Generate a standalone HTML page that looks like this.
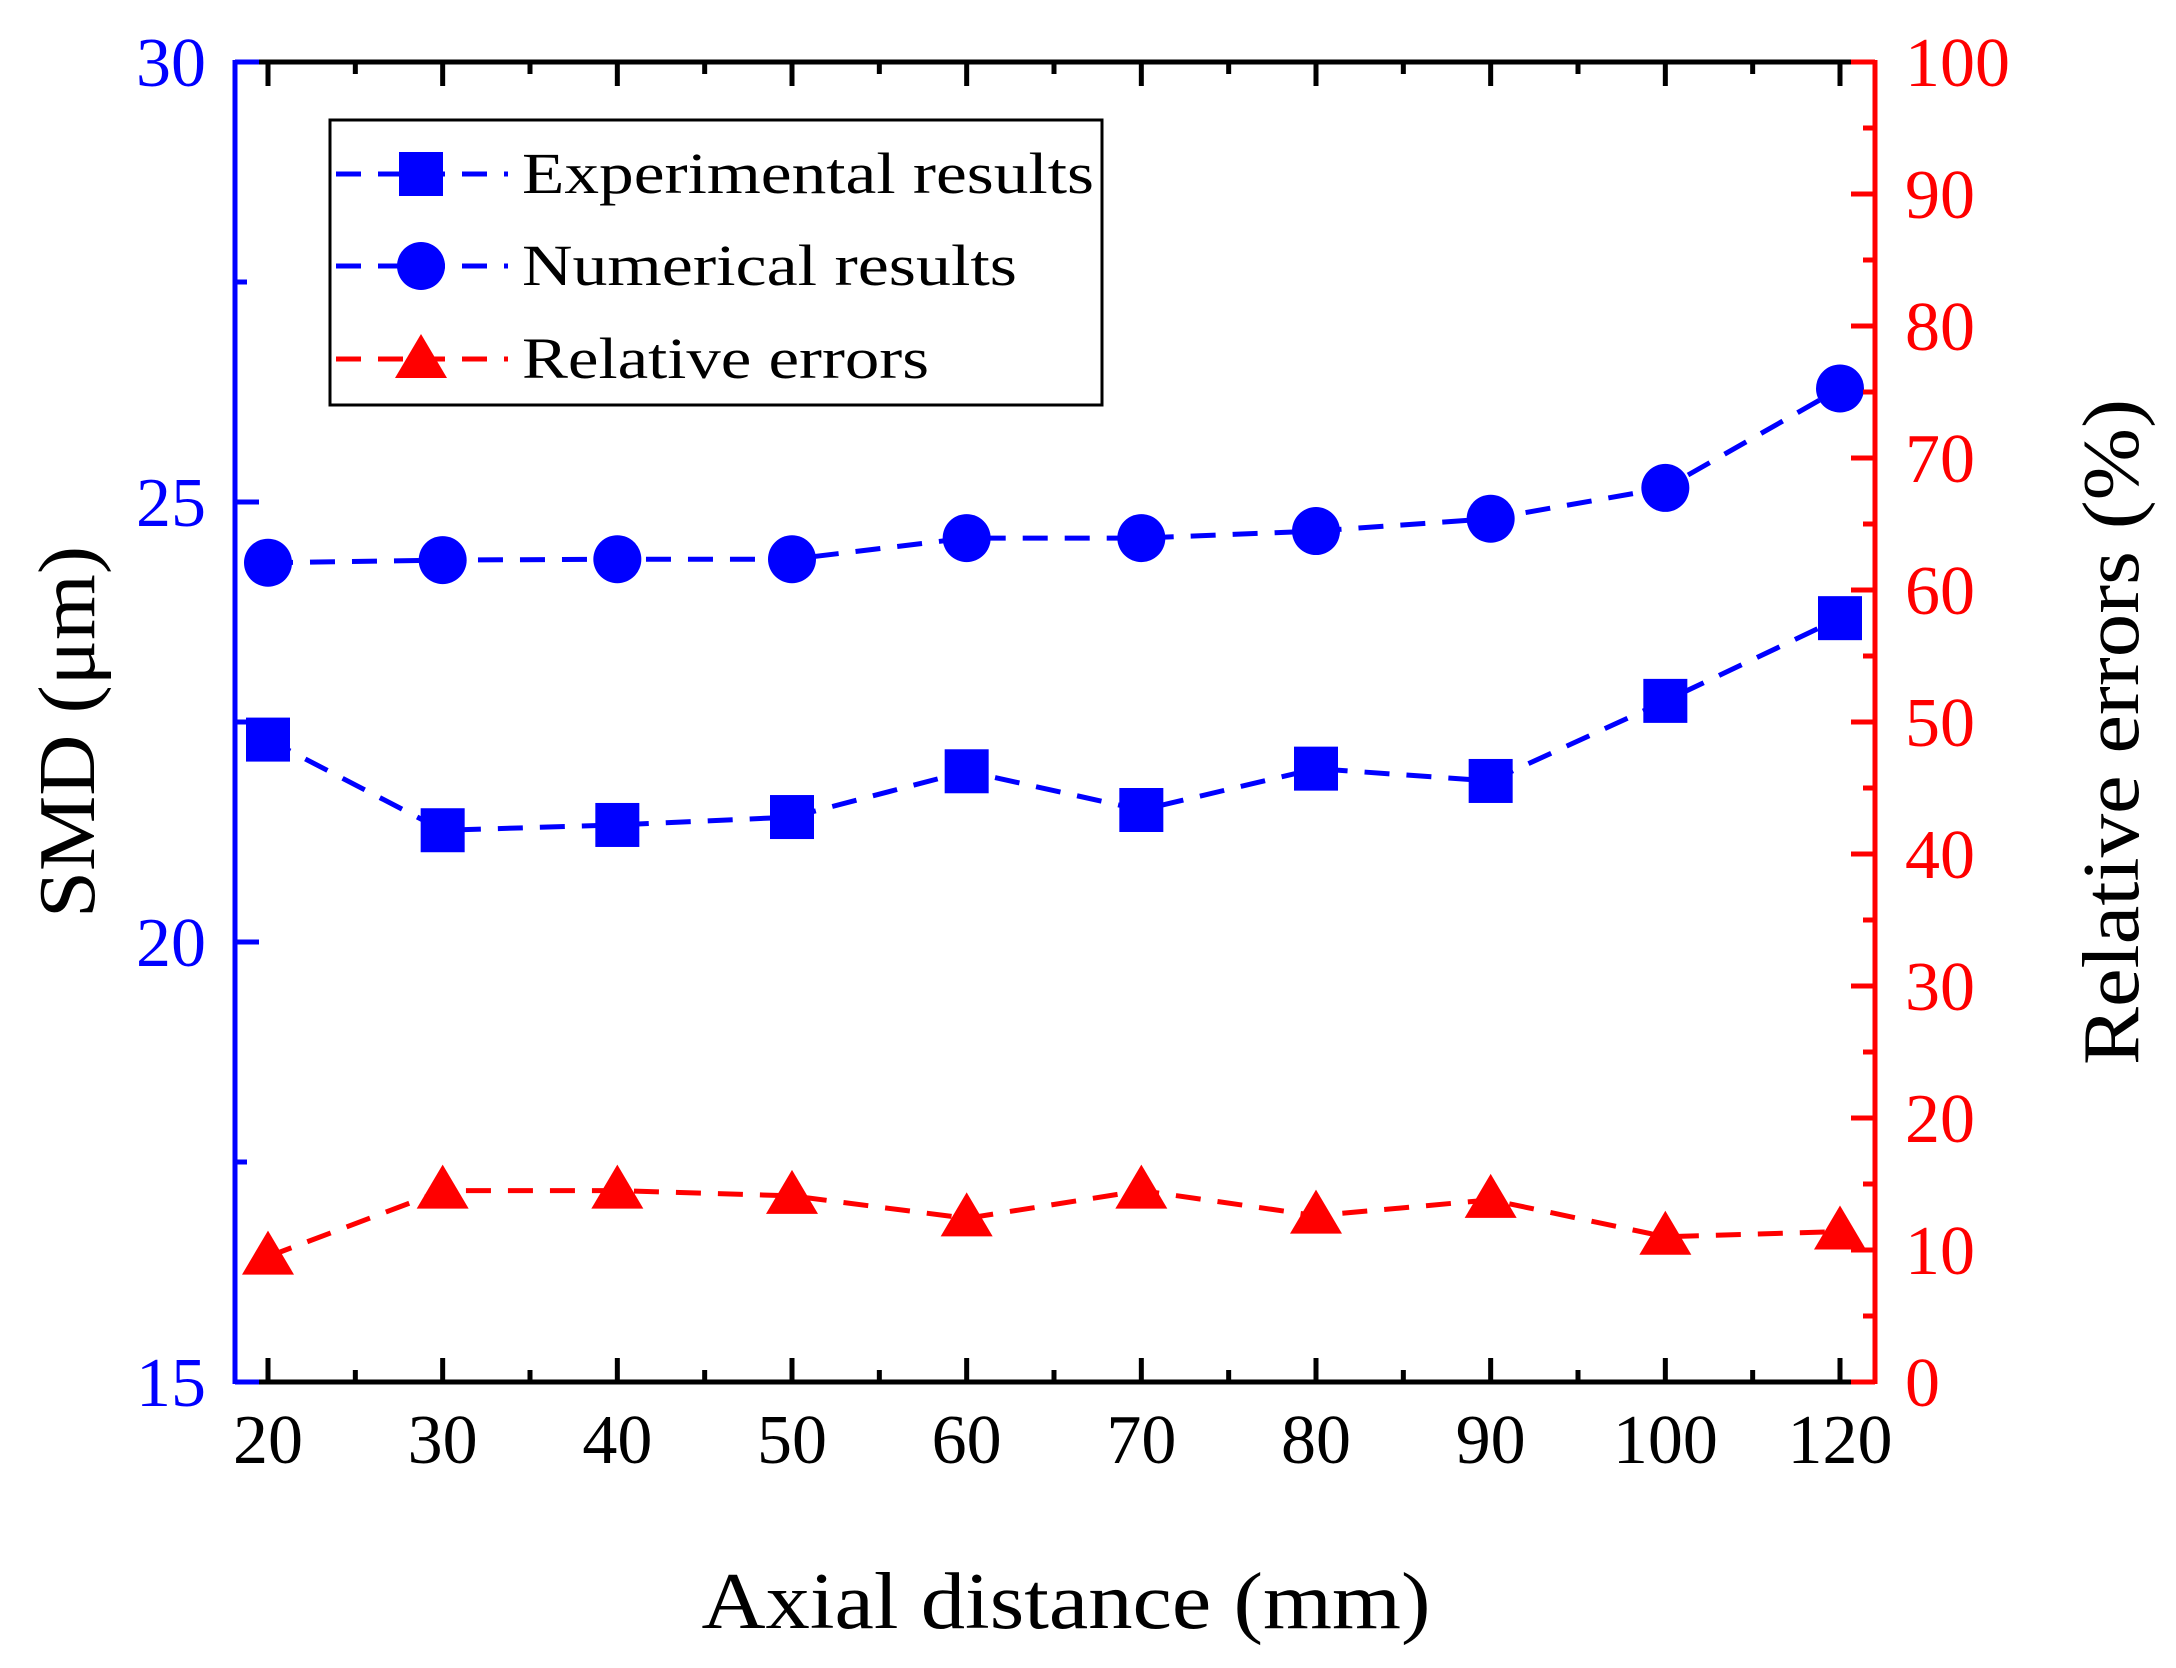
<!DOCTYPE html>
<html><head><meta charset="utf-8">
<style>
html,body{margin:0;padding:0;background:#fff;}
svg{display:block;font-family:"Liberation Serif",serif;}
</style></head>
<body>
<svg id="chart" width="2176" height="1668" viewBox="0 0 2176 1668" xmlns="http://www.w3.org/2000/svg">
<g id="marks"></g>
<g id="axes"></g>
<text x="1066" y="1628" font-size="80" text-anchor="middle" textLength="729" lengthAdjust="spacingAndGlyphs">Axial distance (mm)</text>
<text transform="translate(94,732) rotate(-90)" font-size="80" text-anchor="middle" textLength="372" lengthAdjust="spacingAndGlyphs">SMD (μm)</text>
<text transform="translate(2138,732) rotate(-90)" font-size="80" text-anchor="middle" textLength="666" lengthAdjust="spacingAndGlyphs">Relative errors (%)</text>
<g>
<rect x="330" y="120" width="772" height="285" fill="#fff" stroke="#000" stroke-width="3"/>
<g>
<line x1="336" y1="174" x2="508" y2="174" stroke="#0000ff" stroke-width="5" stroke-dasharray="25,17"/>
<rect x="399" y="152" width="44" height="44" fill="#0000ff"/>
<text x="522" y="193" font-size="58" textLength="572" lengthAdjust="spacingAndGlyphs">Experimental results</text></g>
<g>
<line x1="336" y1="266" x2="508" y2="266" stroke="#0000ff" stroke-width="5" stroke-dasharray="25,17"/>
<circle cx="421" cy="266" r="24" fill="#0000ff"/>
<text x="522" y="285" font-size="58" textLength="495" lengthAdjust="spacingAndGlyphs">Numerical results</text></g>
<g>
<line x1="336" y1="359" x2="508" y2="359" stroke="#ff0000" stroke-width="5" stroke-dasharray="25,17"/>
<polygon points="421,334 447,378 395,378" fill="#ff0000"/>
<text x="522" y="378" font-size="58" textLength="407" lengthAdjust="spacingAndGlyphs">Relative errors</text></g>
</g>
</svg>
<script>
const categories = ["20","30","40","50","60","70","80","90","100","120"];
const experimental = [22.30,21.27,21.33,21.42,21.94,21.50,21.97,21.83,22.74,23.68];
const numerical = [24.31,24.34,24.35,24.35,24.59,24.59,24.67,24.81,25.16,26.29];
const relErrors = [9.5,14.5,14.5,14.1,12.4,14.5,12.6,13.8,11.0,11.4];
const leftTicks = [15,20,25,30];
const rightTicks = [0,10,20,30,40,50,60,70,80,90,100];

const NS="http://www.w3.org/2000/svg";
const L=235,R=1875,T=62,B=1382;
const x0=268,xStep=(1840-268)/9;
const xPos=i=>x0+i*xStep;
const yL=v=>B-(v-15)/(30-15)*(B-T);
const yR=v=>B-v/100*(B-T);
const marks=document.getElementById('marks'), axes=document.getElementById('axes');
function mk(tag,attrs,parent){const e=document.createElementNS(NS,tag);for(const k in attrs)e.setAttribute(k,attrs[k]);parent.appendChild(e);return e;}

function series(vals,yf,color,name,shape){
  const g=mk('g',{},marks);
  
  
  const pl=mk('polyline',{points:vals.map((v,i)=>xPos(i)+','+yf(v)).join(' '),fill:'none',stroke:color,'stroke-width':5,'stroke-dasharray':'25,17'},g);
  
  
  vals.forEach((v,i)=>{
    const cx=xPos(i),cy=yf(v);let m;
    if(shape==='square') m=mk('rect',{x:cx-22,y:cy-22,width:44,height:44,fill:color},g);
    else if(shape==='circle') m=mk('circle',{cx:cx,cy:cy,r:24,fill:color},g);
    else m=mk('polygon',{points:`${cx},${cy-26} ${cx+26},${cy+18} ${cx-26},${cy+18}`,fill:color},g);
    
    
  });
}
series(experimental,yL,'#0000ff','experimental','square');
series(numerical,yL,'#0000ff','numerical','circle');
series(relErrors,yR,'#ff0000','relative-errors','triangle');

const ab=mk('line',{x1:L,y1:B,x2:R,y2:B,stroke:'#000','stroke-width':5},axes);


const at=mk('line',{x1:L,y1:T,x2:R,y2:T,stroke:'#000','stroke-width':5},axes);


const al=mk('line',{x1:L,y1:T-2,x2:L,y2:B+2,stroke:'#0000ff','stroke-width':5},axes);


const ar=mk('line',{x1:R,y1:T-2,x2:R,y2:B+2,stroke:'#ff0000','stroke-width':5},axes);



categories.forEach((c,i)=>{
  const x=xPos(i);
  mk('line',{x1:x,y1:B,x2:x,y2:B-24,stroke:'#000','stroke-width':5},axes);
  mk('line',{x1:x,y1:T,x2:x,y2:T+24,stroke:'#000','stroke-width':5},axes);
  if(i<categories.length-1){const xm=x+xStep/2;
    mk('line',{x1:xm,y1:B,x2:xm,y2:B-12,stroke:'#000','stroke-width':5},axes);
    mk('line',{x1:xm,y1:T,x2:xm,y2:T+12,stroke:'#000','stroke-width':5},axes);}
  const t=mk('text',{x:x,y:1463,'font-size':70,'text-anchor':'middle',fill:'#000'},axes);
  t.textContent=c;
  
  
});
leftTicks.forEach((v,i)=>{
  const y=yL(v);
  mk('line',{x1:L,y1:y,x2:L+24,y2:y,stroke:'#0000ff','stroke-width':5},axes);
  if(i<leftTicks.length-1){const ym=yL(v+2.5);mk('line',{x1:L,y1:ym,x2:L+12,y2:ym,stroke:'#0000ff','stroke-width':5},axes);}
  const t=mk('text',{x:206,y:y+24,'font-size':70,'text-anchor':'end',fill:'#0000ff'},axes);
  t.textContent=v;
  
  
});
rightTicks.forEach((v,i)=>{
  const y=yR(v);
  mk('line',{x1:R,y1:y,x2:R-24,y2:y,stroke:'#ff0000','stroke-width':5},axes);
  if(i<rightTicks.length-1){const ym=yR(v+5);mk('line',{x1:R,y1:ym,x2:R-12,y2:ym,stroke:'#ff0000','stroke-width':5},axes);}
  const t=mk('text',{x:1905,y:y+24,'font-size':70,'text-anchor':'start',fill:'#ff0000'},axes);
  t.textContent=v;
  
  
});
</script>
</body></html>
